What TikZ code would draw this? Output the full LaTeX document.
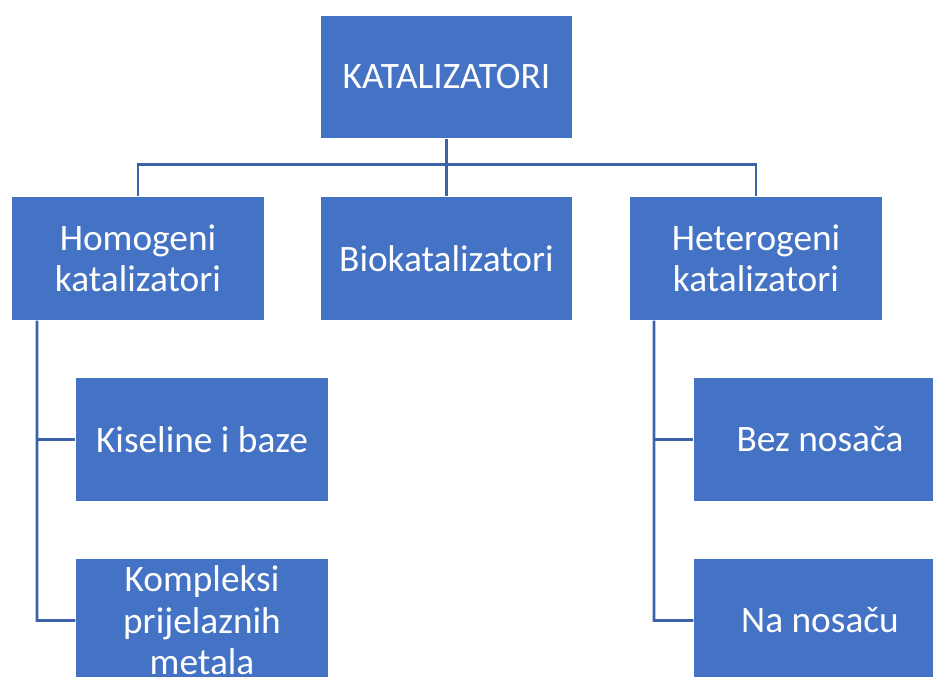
\documentclass[tikz,border=0pt]{standalone}
\usepackage{fontspec}
\setmainfont{Carlito}
\definecolor{boxblue}{RGB}{68,114,196}
\definecolor{lineblue}{RGB}{60,98,170}
\begin{document}
\begin{tikzpicture}[x=0.75pt,y=-0.75pt]
\tikzstyle{every node}+=[inner sep=0pt]
\tikzstyle{kbox}=[rectangle,fill=boxblue,draw=white,line width=0.6pt,minimum width=189.5pt,minimum height=92.5pt,text=white,align=center,font=\fontsize{28}{31}\selectfont]
\tikzstyle{link}=[draw=lineblue,line width=2pt]
\clip (0,0) rectangle (933,677);
\node [kbox] (kat) at (446.5,77) {KATALIZATORI};
\node [kbox] (homo) at (138,258.5) {Homogeni\\katalizatori};
\node [kbox] (bio) at (446.5,258.5) {Biokatalizatori};
\node [kbox] (hetero) at (756,258.5) {Heterogeni\\katalizatori};
\node [kbox] (kis) at (202,439.5) {Kiseline i baze};
\node [kbox] (kom) at (202,620.5) {Kompleksi\\prijelaznih\\metala};
\node [kbox] (bez) at (820,439.5) {Bez nosača};
\node [kbox] (na) at (820,620.5) {Na nosaču};
\draw [link] (kat.south) -- (bio.north);
\draw [link] (homo.north) -- ++(0,-32) -| (hetero.north);
\draw [link] ([xshift=-101*0.75pt]homo.south) -- ++(0,300) -- (kom.west);
\draw [link] ([xshift=-101*0.75pt]homo.south) |- (kis.west);
\draw [link] ([xshift=-102*0.75pt]hetero.south) -- ++(0,300) -- (na.west);
\draw [link] ([xshift=-102*0.75pt]hetero.south) |- (bez.west);
\end{tikzpicture}
\end{document}
